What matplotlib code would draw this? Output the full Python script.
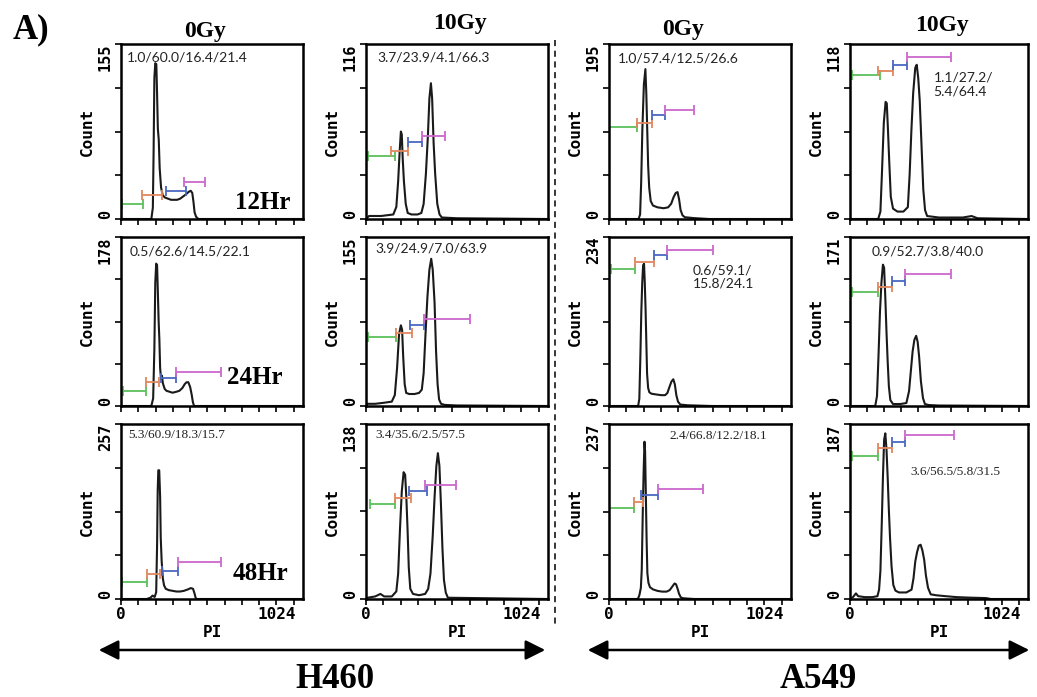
# Cell cycle histograms (PI staining) for H460 and A549, 0Gy / 10Gy, 12-48 Hr

import numpy as np
import matplotlib
matplotlib.use("Agg")
import matplotlib.pyplot as plt
from matplotlib.lines import Line2D
from matplotlib.patches import FancyArrowPatch

# ---- data ----
cell_lines = ["H460", "A549"]
doses = ["0Gy", "10Gy", "0Gy", "10Gy"]
times = ["12Hr", "24Hr", "48Hr"]

# y axis maximum printed on each panel (rows = time, cols = line/dose)
ymax_labels = [[155, 116, 195, 118],
               [178, 155, 234, 171],
               [257, 138, 237, 187]]

# sub-G1 / G1 / S / G2-M percentages
pct_labels = [["1.0/60.0/16.4/21.4", "3.7/23.9/4.1/66.3", "1.0/57.4/12.5/26.6", "1.1/27.2/\n5.4/64.4"],
              ["0.5/62.6/14.5/22.1", "3.9/24.9/7.0/63.9", "0.6/59.1/\n15.8/24.1", "0.9/52.7/3.8/40.0"],
              ["5.3/60.9/18.3/15.7", "3.4/35.6/2.5/57.5", "2.4/66.8/12.2/18.1", "3.6/56.5/5.8/31.5"]]

# histogram traces (PI channel, count)
pi_h460_0_12 = [0, 170, 200, 210, 215, 220, 226, 233, 238, 243, 249, 255, 264, 275, 290, 310, 330, 350, 370, 390, 410, 430, 445, 460, 470, 478, 485, 495, 510, 1200]
ct_h460_0_12 = [0, 0, 0, 10, 60, 125, 138, 137, 110, 80, 70, 45, 28, 21, 19, 18, 17, 17, 17, 18, 20, 22, 24, 25, 23, 15, 6, 2, 0, 0]

pi_h460_10_12 = [0, 20, 100, 180, 200, 212, 222, 230, 236, 242, 250, 262, 275, 300, 340, 365, 380, 395, 408, 418, 428, 436, 446, 456, 470, 485, 500, 600, 1200]
ct_h460_10_12 = [0, 2, 2, 3, 8, 25, 45, 58, 56, 40, 25, 10, 4, 3, 3, 4, 10, 30, 55, 80, 90, 80, 50, 30, 10, 3, 1, 0.5, 0]

pi_a549_0_12 = [0, 195, 205, 212, 220, 230, 240, 246, 252, 258, 265, 275, 290, 320, 360, 390, 410, 425, 440, 452, 462, 472, 485, 500, 560, 660, 1200]
ct_a549_0_12 = [0, 0, 5, 40, 100, 150, 167, 140, 100, 60, 35, 20, 15, 13, 12, 13, 17, 24, 29, 30, 22, 10, 4, 2, 1, 0, 0]

pi_a549_10_12 = [0, 190, 205, 215, 228, 240, 248, 256, 264, 275, 290, 320, 360, 390, 402, 414, 426, 440, 450, 460, 470, 482, 494, 506, 520, 600, 760, 820, 860, 1200]
ct_a549_10_12 = [0, 0, 5, 30, 65, 79, 78, 60, 40, 15, 7, 5, 5, 8, 30, 60, 85, 102, 104, 95, 80, 50, 20, 6, 2, 1, 1, 2, 0.5, 0]

pi_h460_0_24 = [0, 200, 212, 220, 226, 232, 238, 243, 248, 253, 258, 264, 270, 276, 288, 300, 320, 340, 365, 385, 405, 420, 432, 444, 456, 466, 474, 482, 1200]
ct_h460_0_24 = [0, 0, 8, 60, 130, 150, 148, 120, 90, 70, 40, 28, 32, 24, 18, 16, 15, 14, 15, 16, 19, 23, 25, 25, 20, 12, 4, 0, 0]

pi_h460_10_24 = [0, 10, 60, 120, 170, 190, 205, 218, 230, 238, 245, 255, 265, 285, 320, 350, 368, 380, 392, 405, 418, 430, 440, 452, 462, 472, 482, 495, 520, 600, 1200]
ct_h460_10_24 = [0, 2, 2, 3, 4, 10, 35, 66, 74, 70, 46, 20, 12, 11, 11, 12, 15, 30, 65, 100, 125, 135, 125, 95, 50, 20, 6, 2, 1, 0.5, 0]

pi_a549_0_24 = [0, 192, 200, 207, 213, 219, 225, 231, 236, 241, 246, 251, 258, 266, 280, 310, 345, 370, 385, 398, 412, 424, 434, 444, 455, 470, 520, 680, 1200]
ct_a549_0_24 = [0, 0, 10, 70, 130, 170, 195, 197, 170, 135, 90, 45, 25, 19, 17, 16, 15, 15, 18, 26, 34, 37, 30, 15, 6, 2, 1, 0, 0]

pi_a549_10_24 = [0, 170, 182, 192, 202, 212, 222, 230, 238, 246, 254, 262, 272, 290, 340, 380, 398, 410, 422, 434, 446, 456, 466, 478, 492, 505, 530, 600, 1200]
ct_a549_10_24 = [0, 0, 10, 50, 95, 125, 143, 140, 110, 75, 45, 20, 6, 2, 2, 3, 15, 35, 55, 67, 71, 65, 50, 25, 8, 2, 1, 0.5, 0]

pi_h460_0_48 = [0, 170, 195, 208, 222, 232, 238, 242, 246, 252, 258, 262, 268, 276, 284, 295, 315, 340, 365, 390, 415, 440, 460, 475, 485, 493, 500, 1200]
ct_h460_0_48 = [0, 0, 2, 5, 3, 10, 80, 160, 189, 189, 150, 90, 56, 30, 20, 15, 13, 12, 11, 11, 12, 14, 16, 15, 8, 1, 0, 0]

pi_h460_10_48 = [0, 10, 60, 95, 120, 170, 200, 212, 224, 236, 248, 258, 266, 274, 282, 292, 310, 350, 390, 410, 425, 440, 452, 464, 474, 484, 494, 504, 514, 526, 540, 1200]
ct_h460_10_48 = [0, 1, 2, 4, 2, 2, 6, 20, 55, 85, 100, 98, 80, 55, 25, 8, 4, 3, 4, 8, 20, 50, 80, 105, 115, 105, 75, 40, 15, 5, 1, 0]

pi_a549_0_48 = [0, 190, 200, 210, 216, 222, 228, 234, 238, 243, 248, 253, 260, 270, 290, 320, 350, 380, 400, 418, 432, 442, 452, 462, 474, 490, 560, 1200]
ct_a549_0_48 = [0, 0, 5, 15, 40, 110, 170, 213, 200, 140, 80, 35, 22, 16, 13, 11, 10, 10, 12, 17, 21, 20, 14, 7, 2, 1, 0, 0]

pi_a549_10_48 = [0, 20, 40, 55, 100, 150, 185, 196, 205, 214, 222, 230, 238, 246, 254, 262, 270, 280, 292, 306, 330, 380, 415, 428, 440, 452, 464, 476, 488, 500, 512, 526, 544, 580, 645, 720, 800, 917, 950, 1200]
ct_a549_10_48 = [0, 2, 6, 3, 2, 2, 3, 10, 30, 80, 130, 170, 177, 160, 130, 95, 65, 35, 15, 9, 7, 7, 10, 22, 40, 50, 57, 58, 52, 42, 25, 12, 5, 4, 3, 2, 1.5, 1, 0, 0]

traces = [[(pi_h460_0_12, ct_h460_0_12), (pi_h460_10_12, ct_h460_10_12), (pi_a549_0_12, ct_a549_0_12), (pi_a549_10_12, ct_a549_10_12)],
          [(pi_h460_0_24, ct_h460_0_24), (pi_h460_10_24, ct_h460_10_24), (pi_a549_0_24, ct_a549_0_24), (pi_a549_10_24, ct_a549_10_24)],
          [(pi_h460_0_48, ct_h460_0_48), (pi_h460_10_48, ct_h460_10_48), (pi_a549_0_48, ct_a549_0_48), (pi_a549_10_48, ct_a549_10_48)]]

# M1..M4 marker gates: (start channel, end channel, count level)
gates = [[[(7, 147, 13), (136, 271, 21), (294, 429, 25), (418, 554, 33)],
          [(11, 189, 42), (167, 278, 45), (278, 367, 51), (367, 522, 55)],
          [(0, 187, 102), (187, 286, 107), (286, 370, 116), (370, 561, 122)],
          [(11, 202, 97), (191, 292, 100), (292, 381, 104), (381, 684, 109)]],
         [[(12, 168, 16), (168, 252, 25), (264, 360, 29), (360, 660, 36)],
          [(12, 198, 63), (198, 303, 67), (291, 384, 74), (384, 687, 80)],
          [(11, 174, 190), (174, 294, 200), (294, 381, 209), (381, 687, 216)],
          [(11, 191, 115), (191, 280, 120), (280, 370, 126), (370, 684, 134)]],
         [[(5, 172, 25), (172, 256, 36), (268, 375, 41), (375, 662, 54)],
          [(24, 190, 75), (190, 297, 80), (285, 404, 85), (392, 594, 90)],
          [(0, 168, 123), (168, 224, 132), (213, 325, 141), (325, 617, 149)],
          [(11, 192, 153), (192, 283, 161), (283, 374, 168), (374, 702, 175)]]]
gate_colors = ["#5cbf5c", "#e2875e", "#4a68c2", "#cc68cc"]

# ---- layout (pixels of the 1037x697 figure) ----
W, H = 1037, 697
row_px = [(44, 219), (237, 406), (424, 599)]
col_px = [(121, 303), (366, 548), (609, 791), (850, 1028)]
pct_pos = [[(0.03, 0.96), (0.06, 0.96), (0.05, 0.95), (0.47, 0.84)],
           [(0.05, 0.95), (0.05, 0.97), (0.46, 0.84), (0.12, 0.95)],
           [(0.04, 0.97), (0.05, 0.97), (0.33, 0.965), (0.34, 0.76)]]
time_pos = [(0.93, 0.03), (0.89, 0.10), (0.92, 0.08)]

mono = "DejaVu Sans Mono"
serif = "Liberation Serif"

fig = plt.figure(figsize=(W / 100, H / 100), dpi=100)

for r in range(3):
    top, bot = row_px[r]
    for c in range(4):
        left, right = col_px[c]
        ax = fig.add_axes([left / W, 1 - bot / H, (right - left) / W, (bot - top) / H])
        x, y = traces[r][c]
        ymax = ymax_labels[r][c]
        ax.plot(x, y, color="#1a1a1a", lw=1.5)

        for (g0, g1, gy), gc in zip(gates[r][c], gate_colors):
            ax.plot([g0, g1], [gy, gy], color=gc, lw=1.3, marker="|",
                    markersize=7, markeredgewidth=1.3, solid_capstyle="butt")

        ax.set_xlim(0, 1200)
        ax.set_ylim(0, ymax)
        for s in ax.spines.values():
            s.set_linewidth(1.8)

        ax.set_xticks(np.arange(11) * 1024 / 9)
        if r == 2:
            ax.set_xticklabels(["0"] + [""] * 8 + ["1024", ""],
                               fontfamily=mono, fontweight="bold", fontsize=11.5)
            ax.set_xlabel("PI", fontfamily=mono, fontweight="bold", fontsize=11.5, labelpad=2)
        else:
            ax.set_xticklabels([])

        ax.set_yticks(np.linspace(0, ymax, 5))
        ax.set_yticklabels(["0", "", "", "", str(ymax)], rotation=90,
                           fontfamily=mono, fontweight="bold", fontsize=11)
        ylabs = ax.get_yticklabels()
        ylabs[0].set_va("bottom")
        ylabs[-1].set_va("top")
        ax.set_ylabel("Count", fontfamily=mono, fontweight="bold", fontsize=11.5, labelpad=2)
        ax.tick_params(direction="out", length=4, width=1.2, pad=2)

        px, py = pct_pos[r][c]
        if r == 2:
            ax.text(px, py, pct_labels[r][c], transform=ax.transAxes, ha="left", va="top",
                    fontfamily=serif, fontsize=9.5, color="#222222")
        else:
            ax.text(px, py, pct_labels[r][c], transform=ax.transAxes, ha="left", va="top",
                    fontfamily="Lato", fontsize=10, color="#222222", linespacing=1.1)

        if c == 0:
            tx, ty = time_pos[r]
            ax.text(tx, ty, times[r], transform=ax.transAxes, ha="right", va="bottom",
                    fontfamily=serif, fontweight="bold", fontsize=18)

# panel letter and column titles
fig.text(31 / W, 1 - 30 / H, "A)", fontfamily=serif, fontweight="bold", fontsize=25,
         ha="center", va="center")
title_px = [(205, 32), (460, 24), (683, 30), (942, 26)]
for (tx, ty), d in zip(title_px, doses):
    fig.text(tx / W, 1 - ty / H, d, fontfamily=serif, fontweight="bold", fontsize=17,
             ha="center", va="center")

# dashed separator between cell lines
fig.add_artist(Line2D([555 / W, 555 / W], [1 - 40 / H, 1 - 625 / H], color="black",
                      lw=1.1, linestyle=(0, (4, 3))))

# double-headed arrows with cell line names
arrow_px = [(96, 548, 335), (585, 1032, 818)]
for (a0, a1, lx), name in zip(arrow_px, cell_lines):
    fig.add_artist(FancyArrowPatch(
        (a0 / W, 1 - 650 / H), (a1 / W, 1 - 650 / H), transform=fig.transFigure,
        arrowstyle="<|-|>,head_length=8,head_width=4", color="black", lw=1.8,
        mutation_scale=1.5))
    fig.text(lx / W, 1 - 680 / H, name, fontfamily=serif, fontweight="bold", fontsize=25,
             ha="center", va="center")

fig.savefig("out.png", dpi=100)
